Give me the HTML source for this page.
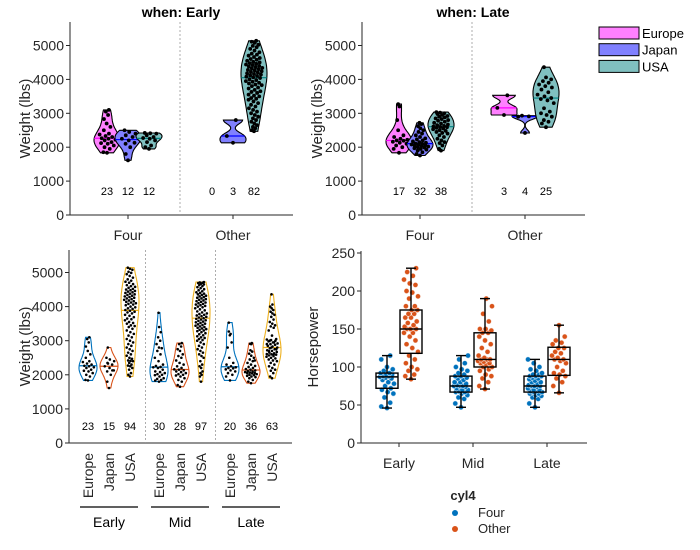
<!DOCTYPE html>
<html><head><meta charset="utf-8">
<style>
body{margin:0;background:#fff;}
svg{display:block;font-family:"Liberation Sans",Arial,sans-serif;}
</style></head>
<body>
<svg id="chart" width="700" height="550" viewBox="0 0 700 550"></svg>
<script>
// ---------- DATA ----------
const regions = ["Europe","Japan","USA"];
const cylCats = ["Four","Other"];
const eras = ["Early","Mid","Late"];
const weightTicks = [0,1000,2000,3000,4000,5000];
const hpTicks = [0,50,100,150,200,250];

const earlyFourEurope = [1835,1850,1950,2000,2050,2100,2120,2150,2200,2220,2250,2265,2300,2330,2375,2400,2500,2600,2700,2830,2950,3050,3100];
const earlyFourJapan = [1613,1800,2000,2100,2130,2200,2250,2300,2350,2400,2450,2500];
const earlyFourUSA = [1950,2000,2050,2150,2200,2250,2270,2300,2350,2400,2410,2420];
const earlyOtherEurope = [];
const earlyOtherJapan = [2130,2330,2800];
const earlyOtherUSA = [2470,2500,2560,2600,2650,2700,2750,2800,2850,2900,2950,3000,3050,3100,3150,3200,3250,3300,3350,3400,3430,3450,3500,3520,3550,3600,3630,3650,3690,3730,3760,3800,3830,3850,3880,3900,3930,3950,3980,4000,4040,4060,4080,4100,4120,4140,4160,4180,4200,4220,4240,4260,4280,4300,4320,4340,4360,4380,4400,4420,4440,4460,4480,4500,4520,4550,4580,4600,4630,4660,4700,4730,4760,4800,4850,4900,4950,4990,5020,5080,5110,5140];
const lateFourEurope = [1835,1950,2000,2050,2100,2130,2160,2190,2200,2220,2250,2300,2350,2500,2800,3200,3270];
const lateFourJapan = [1755,1800,1850,1900,1930,1950,1970,1990,2000,2020,2040,2050,2060,2070,2080,2100,2110,2130,2150,2170,2200,2230,2260,2300,2350,2400,2450,2500,2560,2620,2680,2720];
const lateFourUSA = [1900,1950,2050,2120,2150,2200,2250,2300,2350,2400,2420,2450,2480,2500,2530,2550,2570,2590,2600,2610,2630,2650,2670,2700,2720,2750,2780,2800,2830,2850,2880,2900,2920,2950,2980,3000,3020,3035];
const lateOtherEurope = [2950,3160,3530];
const lateOtherJapan = [2420,2900,2910,2930];
const lateOtherUSA = [2590,2700,2750,2800,2900,2950,3000,3050,3150,3300,3380,3420,3450,3500,3550,3620,3700,3760,3800,3850,3900,3950,4000,4060,4360];
const midEurope = [1800,1830,1850,1880,1900,1950,1990,2000,2020,2050,2080,2100,2150,2200,2220,2230,2260,2300,2400,2500,2600,2700,2780,2800,2900,3000,3100,3250,3400,3820];
const midJapan = [1650,1700,1800,1850,1900,1950,1980,2000,2020,2050,2080,2100,2130,2150,2160,2200,2250,2300,2350,2420,2500,2550,2600,2700,2750,2830,2900,2930];
const midUSA = [1800,1950,2000,2050,2100,2200,2250,2300,2400,2500,2550,2600,2650,2700,2750,2800,2850,2900,2950,3000,3020,3050,3080,3100,3130,3160,3190,3220,3250,3280,3300,3320,3340,3360,3380,3400,3420,3440,3460,3480,3500,3520,3540,3560,3580,3600,3620,3640,3660,3680,3700,3720,3740,3760,3780,3800,3830,3860,3890,3920,3950,3980,4000,4020,4040,4060,4080,4100,4120,4140,4160,4180,4200,4220,4240,4260,4280,4300,4320,4340,4360,4380,4400,4420,4450,4480,4510,4540,4570,4600,4630,4650,4670,4690,4700,4710,4720];

const hpEarlyFour = [46,48,53,60,65,67,70,72,75,78,80,83,85,86,87,88,88,90,90,92,92,95,97,100,110,115];
const hpEarlyOther = [84,88,90,95,97,100,105,110,115,120,125,130,135,140,145,145,150,150,150,153,155,158,160,165,165,170,170,175,175,180,180,190,193,198,200,208,210,215,220,225,230];
const hpMidFour = [47,52,58,60,63,65,67,67,68,70,70,72,74,75,75,75,76,78,80,80,83,85,86,88,88,90,92,95,97,100,105,110,115];
const hpMidOther = [71,75,80,85,88,90,95,97,100,100,103,105,105,107,108,110,110,110,112,115,120,125,130,135,140,145,145,148,150,150,160,170,180,190];
const hpLateFour = [47,52,58,60,62,63,65,65,67,67,68,68,70,70,72,74,75,75,75,76,78,80,80,82,84,85,86,88,88,88,90,90,92,95,97,100,105,110];
const hpLateOther = [66,75,80,85,88,90,92,95,100,105,108,110,110,112,115,118,120,125,125,130,132,135,140,155];
// box stats: [low whisker, q1, median, q3, high whisker]
const hpBoxFour = [[46,72,87,92,115],[47,67,75,88,115],[47,67,75,88,110]];
const hpBoxOther = [[84,118,150,175,230],[71,100,110,145,190],[66,89,110,126,155]];

// ---------- HELPERS ----------
const svg = document.getElementById('chart');
const NS = 'http://www.w3.org/2000/svg';
function mk(tag, attrs, parent, text){
  const e = document.createElementNS(NS, tag);
  for (const k in attrs) e.setAttribute(k, attrs[k]);
  if (text !== undefined) e.textContent = text;
  (parent||svg).appendChild(e);
  return e;
}
function median(a){const s=[...a].sort((x,y)=>x-y);const n=s.length;return n%2?s[(n-1)/2]:(s[n/2-1]+s[n/2])/2;}
function kde(vals, y, h){let s=0;for(const v of vals){const u=(y-v)/h;s+=Math.exp(-0.5*u*u);}return s;}
function jit(i){return (((i*37+11)%23)/22)-0.5;}

function drawViolin(g, vals, cx, yScale, halfW, fill, stroke, medColor, name, dotR){
  if (!vals.length) return;
  const mn=Math.min(...vals), mx=Math.max(...vals);
  const rng = Math.max(mx-mn, 100);
  const h = Math.max(rng*0.17, 80);
  const steps=40; const ys=[]; let dmax=0;
  for(let k=0;k<=steps;k++){const y=mn+(mx-mn)*k/steps;const d=kde(vals,y,h);ys.push([y,d]);if(d>dmax)dmax=d;}
  let pts=[];
  ys.forEach(([y,d])=>pts.push([cx+d/dmax*halfW, yScale(y)]));
  for(let k=ys.length-1;k>=0;k--){const [y,d]=ys[k];pts.push([cx-d/dmax*halfW, yScale(y)]);}
  const p = mk('polygon',{points:pts.map(p=>p[0].toFixed(1)+','+p[1].toFixed(1)).join(' '),fill:fill,stroke:stroke,'stroke-width':1.1},g);
  
  
  const md = median(vals); const dm = kde(vals,md,h)/dmax*halfW;
  const ml = mk('line',{x1:cx-dm,x2:cx+dm,y1:yScale(md),y2:yScale(md),stroke:medColor,'stroke-width':1.2},g);
  
  
  vals.forEach((v,i)=>{
    const w = kde(vals,v,h)/dmax*halfW*1.3;
    const c = mk('circle',{cx:cx+jit(i)*w,cy:yScale(v),r:dotR,fill:'#000'},g);
    
    
  });
}

function yAxis(x, y0, y1, ticks, scale, label, labelX, name){
  const g = mk('g',{});
  
  
  mk('line',{x1:x,x2:x,y1:y0,y2:y1,stroke:'#262626','stroke-width':1},g);
  ticks.forEach(t=>{
    mk('line',{x1:x-4,x2:x,y1:scale(t),y2:scale(t),stroke:'#262626'},g);
    const tx = mk('text',{x:x-6,y:scale(t)+5,'text-anchor':'end','font-size':14,fill:'#262626'},g,t);
    
    
  });
  const mid=(y0+y1)/2;
  const lt = mk('text',{x:labelX,y:mid,'text-anchor':'middle','font-size':15,fill:'#262626',transform:`rotate(-90 ${labelX} ${mid})`},g,label);
  
  
  return g;
}

const regionFill = ['#ff80ff','#8080ff','#80c0c0'];
const regionMed = ['#ff00ff','#0000ff','#008080'];

// ---------- TOP PANELS ----------
const topData = [
  [[earlyFourEurope,earlyFourJapan,earlyFourUSA],[earlyOtherEurope,earlyOtherJapan,earlyOtherUSA]],
  [[lateFourEurope,lateFourJapan,lateFourUSA],[lateOtherEurope,lateOtherJapan,lateOtherUSA]]
];
const topTitles = ['when: Early','when: Late'];
[70,362].forEach((ax,pi)=>{
  const yS = v=>215 - v*0.0339;
  const right = ax+223;
  const catX = [ax+58, ax+163];
  const g = mk('g',{});
  
  
  const t = mk('text',{x:ax+111,y:17,'text-anchor':'middle','font-size':14,'font-weight':'bold',fill:'#000'},g,topTitles[pi]);
  
  
  yAxis(ax,22,215,weightTicks,yS,'Weight (lbs)',ax-40,'y-axis-weight');
  mk('line',{x1:ax,x2:right,y1:215,y2:215,stroke:'#262626'},g);
  mk('line',{x1:ax+110,x2:ax+110,y1:22,y2:215,stroke:'#999','stroke-dasharray':'2,2','stroke-width':0.8},g);
  cylCats.forEach((c,ci)=>{
    mk('line',{x1:catX[ci],x2:catX[ci],y1:215,y2:219,stroke:'#262626'},g);
    const tl = mk('text',{x:catX[ci],y:240,'text-anchor':'middle','font-size':14,fill:'#262626'},g,c);
    
    
    regions.forEach((r,ri)=>{
      const vals = topData[pi][ci][ri];
      const cx = catX[ci] + (ri-1)*21;
      drawViolin(g, vals, cx, yS, 13, regionFill[ri], '#000', regionMed[ri], r.toLowerCase()+'-'+c.toLowerCase(), 1.9);
      const ct = mk('text',{x:cx,y:195,'text-anchor':'middle','font-size':11,fill:'#000'},g,vals.length);
      
      
    });
  });
});
// legend top-right
regions.forEach((r,ri)=>{
  const g = mk('g',{});
  
  
  mk('rect',{x:599,y:27+ri*16.7,width:40,height:12,fill:regionFill[ri],stroke:'#000','stroke-width':1},g);
  mk('text',{x:642,y:38+ri*16.7,'font-size':13,fill:'#000'},g,r);
});

// ---------- BOTTOM LEFT ----------
const botData = [
  [earlyFourEurope, earlyFourJapan.concat(earlyOtherJapan), earlyFourUSA.concat(earlyOtherUSA)],
  [midEurope, midJapan, midUSA],
  [lateFourEurope.concat(lateOtherEurope), lateFourJapan.concat(lateOtherJapan), lateFourUSA.concat(lateOtherUSA)]
];
const botColors = ['#0072BD','#D95319','#EDB120'];
(function(){
  const ax=69, yS=v=>443 - v*0.0341;
  const g = mk('g',{});
  
  
  yAxis(ax,250,443,weightTicks,yS,'Weight (lbs)',ax-39,'y-axis-weight-bottom');
  mk('line',{x1:ax,x2:ax+223,y1:443,y2:443,stroke:'#262626'},g);
  [145.5,215.5].forEach(x=>mk('line',{x1:x,x2:x,y1:250,y2:443,stroke:'#999','stroke-dasharray':'2,2','stroke-width':0.8},g));
  eras.forEach((e,ei)=>{
    const base = 109 + ei*71;
    regions.forEach((r,ri)=>{
      const cx = base + (ri-1)*21;
      const vals = botData[ei][ri];
      drawViolin(g, vals, cx, yS, 9, 'none', botColors[ri], botColors[ri], e.toLowerCase()+'-'+r.toLowerCase(), 1.3);
      const ct = mk('text',{x:cx,y:430,'text-anchor':'middle','font-size':11,fill:'#000'},g,vals.length);
      
      
      const tl = mk('text',{x:cx+5,y:453,'text-anchor':'end','font-size':14,fill:'#262626',transform:`rotate(-90 ${cx+5} 453)`},g,r);
      
      
    });
    mk('line',{x1:base-29,x2:base+29,y1:507,y2:507,stroke:'#000','stroke-width':1.2},g);
    const gl = mk('text',{x:base,y:527,'text-anchor':'middle','font-size':14,fill:'#000'},g,e);
    
    
  });
})();

// ---------- BOTTOM RIGHT (boxplot) ----------
const hpPoints = [[hpEarlyFour,hpEarlyOther],[hpMidFour,hpMidOther],[hpLateFour,hpLateOther]];
const hpBoxes = [hpBoxFour, hpBoxOther];
const cylColors = ['#0072BD','#D95319'];
(function(){
  const ax=361, yS=v=>443 - v*0.76;
  const g = mk('g',{});
  
  
  yAxis(ax,251,443,hpTicks,yS,'Horsepower',ax-43,'y-axis-horsepower');
  mk('line',{x1:ax,x2:ax+226,y1:443,y2:443,stroke:'#262626'},g);
  eras.forEach((e,ei)=>{
    const cxE = 399 + ei*74;
    mk('line',{x1:cxE,x2:cxE,y1:443,y2:447,stroke:'#262626'},g);
    const tl = mk('text',{x:cxE,y:468,'text-anchor':'middle','font-size':14,fill:'#262626'},g,e);
    
    
    [0,1].forEach(ci=>{
      const cx = cxE + (ci===0?-12:12);
      const pts = hpPoints[ei][ci];
      pts.forEach((v,i)=>{
        const c = mk('circle',{cx:cx+jit(i)*14,cy:yS(v),r:2.6,fill:cylColors[ci],stroke:'#fff','stroke-opacity':0.6,'stroke-width':0.8},g);
        
        
      });
      const b = hpBoxes[ci][ei];
      const bg = mk('g',{stroke:'#000','stroke-width':1.4,fill:'none'},g);
      
      
      mk('line',{x1:cx,x2:cx,y1:yS(b[0]),y2:yS(b[1])},bg);
      mk('line',{x1:cx,x2:cx,y1:yS(b[3]),y2:yS(b[4])},bg);
      mk('line',{x1:cx-5,x2:cx+5,y1:yS(b[0]),y2:yS(b[0])},bg);
      mk('line',{x1:cx-5,x2:cx+5,y1:yS(b[4]),y2:yS(b[4])},bg);
      mk('rect',{x:cx-11,y:yS(b[3]),width:22,height:yS(b[1])-yS(b[3])},bg);
      mk('line',{x1:cx-11,x2:cx+11,y1:yS(b[2]),y2:yS(b[2])},bg);
    });
  });
  const lt = mk('text',{x:463,y:500,'text-anchor':'middle','font-size':13,'font-weight':'bold',fill:'#262626'},g,'cyl4');
  
  
  cylCats.forEach((c,ci)=>{
    const le = mk('g',{},g);
    
    
    mk('circle',{cx:455,cy:513+ci*16,r:3,fill:cylColors[ci]},le);
    mk('text',{x:478,y:517+ci*16,'font-size':13,fill:'#262626'},le,c);
  });
})();
</script>
</body></html>
